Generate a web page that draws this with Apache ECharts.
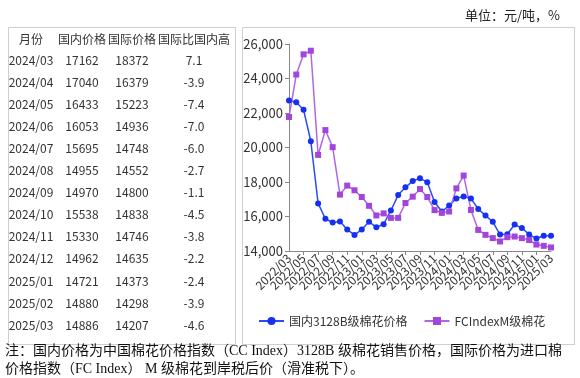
<!DOCTYPE html>
<html>
  <head>
    <meta charset="utf-8">
    <title>棉花价格</title>
    <style>
      html, body { margin: 0; padding: 0; background: #fff; }
    </style>
  </head>
  <body>
    <div id="main" style="width: 580px;height:378px;"></div>

  <script src="https://cdn.jsdelivr.net/npm/echarts@6/dist/echarts.min.js" charset="utf-8"></script>
  <script type="text/javascript">
  // 月份 2022/03 - 2025/03
  var months = ['2022/03','2022/04','2022/05','2022/06','2022/07','2022/08','2022/09','2022/10','2022/11','2022/12',
                '2023/01','2023/02','2023/03','2023/04','2023/05','2023/06','2023/07','2023/08','2023/09','2023/10','2023/11','2023/12',
                '2024/01','2024/02','2024/03','2024/04','2024/05','2024/06','2024/07','2024/08','2024/09','2024/10','2024/11','2024/12',
                '2025/01','2025/02','2025/03'];
  // 国内3128B级棉花价格
  var domestic = [22720, 22620, 22190, 20360, 16760, 15870, 15650, 15710, 15240, 14930,
                  15240, 15690, 15380, 15550, 16350, 17240, 17690, 18060, 18220, 17980, 16840, 16290,
                  16640, 17050, 17162, 17040, 16433, 16053, 15695, 14955, 14970, 15538, 15330, 14962,
                  14721, 14880, 14886];
  // FCIndexM级棉花
  var intl = [21770, 24230, 25400, 25610, 19570, 21010, 20020, 17270, 17790, 17520,
              17130, 16620, 16060, 16180, 15920, 15920, 16780, 17150, 17590, 17130, 16370, 16210,
              16290, 17630, 18372, 16379, 15223, 14936, 14748, 14552, 14800, 14838, 14746, 14635,
              14373, 14298, 14207];

  // 表格
  var tableHeader = ['月份', '国内价格', '国际价格', '国际比国内高'];
  var tableMonths = ['2024/03','2024/04','2024/05','2024/06','2024/07','2024/08','2024/09','2024/10','2024/11','2024/12','2025/01','2025/02','2025/03'];
  var tableDomestic = [17162, 17040, 16433, 16053, 15695, 14955, 14970, 15538, 15330, 14962, 14721, 14880, 14886];
  var tableIntl = [18372, 16379, 15223, 14936, 14748, 14552, 14800, 14838, 14746, 14635, 14373, 14298, 14207];
  var tableDiff = ['7.1', '-3.9', '-7.4', '-7.0', '-6.0', '-2.7', '-1.1', '-4.5', '-3.8', '-2.2', '-2.4', '-3.9', '-4.6'];

  var unitText = '单位：元/吨，%';
  var noteLines = ['注：国内价格为中国棉花价格指数（CC Index）3128B 级棉花销售价格，国际价格为进口棉',
                   '价格指数（FC Index） M 级棉花到岸税后价（滑准税下）。'];

  var uiFont = '"Noto Sans CJK SC", "Noto Sans", sans-serif';
  var serifFont = '"Liberation Serif", "Noto Sans CJK SC", serif';
  var textColor = '#333';

  var graphics = [];
  // 两个边框
  graphics.push({ type: 'rect', left: 6, top: 25, shape: { width: 227, height: 317 },
                  style: { fill: 'none', stroke: '#cfcfcf', lineWidth: 1 } });
  graphics.push({ type: 'rect', left: 240, top: 25, shape: { width: 332, height: 317 },
                  style: { fill: 'none', stroke: '#cfcfcf', lineWidth: 1 } });

  var colX = [31, 82, 132, 194];
  function cell(txt, x, y) {
    graphics.push({ type: 'text', x: x, y: y,
      style: { text: txt, fill: textColor, font: '12px ' + uiFont, align: 'center', verticalAlign: 'middle' } });
  }
  tableHeader.forEach(function (h, i) { cell(h, colX[i], 39); });
  tableMonths.forEach(function (m, i) {
    var y = 60 + i * 22.1;
    cell(m, colX[0], y);
    cell(String(tableDomestic[i]), colX[1], y);
    cell(String(tableIntl[i]), colX[2], y);
    cell(tableDiff[i], colX[3], y);
  });

  graphics.push({ type: 'text', x: 560, y: 15,
    style: { text: unitText, fill: '#222', font: '13px ' + uiFont, align: 'right', verticalAlign: 'middle' } });
  noteLines.forEach(function (t, i) {
    graphics.push({ type: 'text', x: 5, y: 351 + i * 18,
      style: { text: t, fill: '#111', font: '14px ' + serifFont, align: 'left', verticalAlign: 'middle' } });
  });

  var lastIdx = months.length - 1;
  var labelStyle = { rotate: 45, color: textColor, fontSize: 12, margin: 5, hideOverlap: false };

  var myChart = echarts.init(document.getElementById('main'));

  var option = {
    animation: false,
    textStyle: { fontFamily: uiFont },
    grid: { left: 289, right: 29, top: 44, bottom: 127 },
    legend: {
      left: 253, top: 310, width: 320,
      itemWidth: 25, itemHeight: 10, itemGap: 16,
      textStyle: { color: textColor, fontSize: 12 },
      data: ['国内3128B级棉花价格', 'FCIndexM级棉花']
    },
    xAxis: [
      {
        // 中间的标签（首尾两个由第二条轴画）
        type: 'category',
        position: 'bottom',
        boundaryGap: false,
        data: months,
        axisLine: { lineStyle: { color: '#888' } },
        axisTick: { interval: 1, length: 4, lineStyle: { color: '#888' } },
        axisLabel: Object.assign({ interval: 1, showMinLabel: false, showMaxLabel: false }, labelStyle)
      },
      {
        type: 'category',
        position: 'bottom',
        boundaryGap: false,
        data: months,
        axisLine: { show: false },
        axisTick: { show: false },
        axisLabel: Object.assign({
          interval: function (i) { return i === 0 || i === lastIdx; },
          showMinLabel: true, showMaxLabel: true
        }, labelStyle)
      }
    ],
    yAxis: {
      type: 'value',
      min: 14000, max: 26000, interval: 2000,
      axisLine: { show: true, lineStyle: { color: '#888' } },
      axisTick: { show: true, length: 4, lineStyle: { color: '#888' } },
      splitLine: { show: false },
      axisLabel: {
        color: textColor, fontSize: 13, margin: 6,
        formatter: function (v) { return v.toLocaleString('en-US'); }
      }
    },
    series: [
      {
        name: '国内3128B级棉花价格',
        type: 'line',
        xAxisIndex: 0,
        data: domestic,
        showAllSymbol: true,
        symbol: 'circle', symbolSize: 6,
        lineStyle: { width: 1.5, color: '#2a4cf5' },
        itemStyle: { color: '#1530f0' }
      },
      {
        name: 'FCIndexM级棉花',
        type: 'line',
        xAxisIndex: 0,
        data: intl,
        showAllSymbol: true,
        symbol: 'rect', symbolSize: 6,
        lineStyle: { width: 1.5, color: '#b266e6' },
        itemStyle: { color: '#a145db' }
      }
    ],
    graphic: graphics
  };
  myChart.setOption(option);
  </script>
  </body>
</html>
